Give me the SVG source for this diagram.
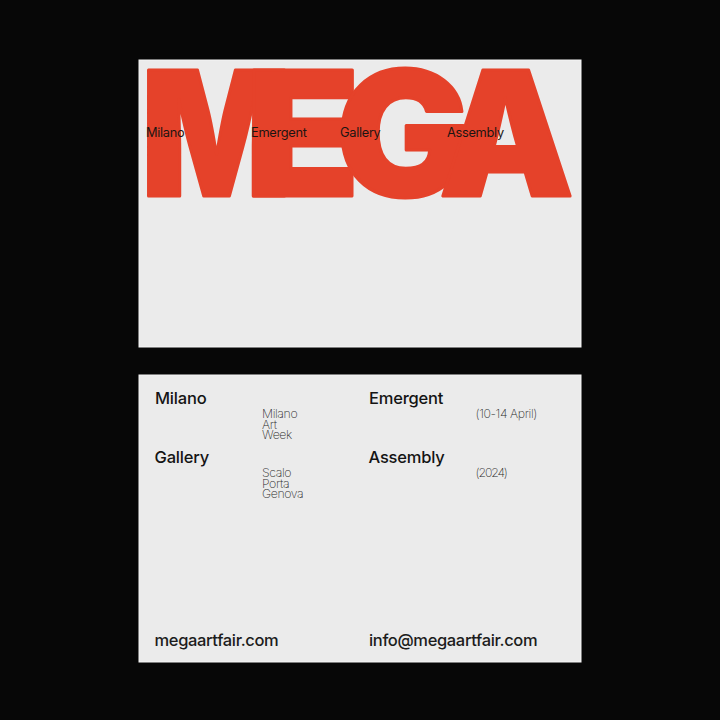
<svg xmlns="http://www.w3.org/2000/svg" width="720" height="720" viewBox="0 0 720 720">
<style>
.card{fill:#ebebeb;stroke:#f6f6f6;stroke-width:1}
.mega{font-family:Inter,"Liberation Sans",sans-serif;font-weight:900;font-size:173.500px;fill:#e5422a;stroke:#e5422a;stroke-width:3;stroke-linejoin:round}
.over{font-family:Inter,"Liberation Sans",sans-serif;font-weight:400;font-size:12.800px;letter-spacing:-.3px;fill:#1c1512}
.head{font-family:Inter,"Liberation Sans",sans-serif;font-weight:500;font-size:16.500px;letter-spacing:-.2px;fill:#141414}
.foot{font-family:Inter,"Liberation Sans",sans-serif;font-weight:500;font-size:16.500px;letter-spacing:-.35px;fill:#1c1c1c}
.small{font-family:Inter,"Liberation Sans",sans-serif;font-weight:200;font-size:12.300px;letter-spacing:-.4px;fill:#2c2c2c}
</style>
<rect width="720" height="720" fill="#070707"/>
<g id="card-front">
<rect class="card" x="139" y="60" width="442" height="287"/>
<g id="logo">
<text class="mega" x="141" y="195.500" textLength="151" lengthAdjust="spacingAndGlyphs">M</text>
<text class="mega" x="245" y="195.500" textLength="115" lengthAdjust="spacingAndGlyphs">E</text>
<text class="mega" x="336" y="195.500" textLength="134" lengthAdjust="spacingAndGlyphs">G</text>
<text class="mega" x="439" y="195.500" textLength="135" lengthAdjust="spacingAndGlyphs">A</text>
</g>
<g id="overlay-labels">
<text class="over" x="146" y="137">Milano</text>
<text class="over" x="251" y="137">Emergent</text>
<text class="over" x="340" y="137">Gallery</text>
<text class="over" x="447" y="137">Assembly</text>
</g>
</g>
<g id="card-back">
<rect class="card" x="139" y="375" width="442" height="287"/>
<text class="head" x="155" y="404">Milano</text>
<text class="head" x="369" y="404">Emergent</text>
<text class="head" x="154.500" y="463">Gallery</text>
<text class="head" x="368.500" y="463">Assembly</text>
<text class="small" x="262" y="418">Milano</text>
<text class="small" x="262" y="428.500">Art</text>
<text class="small" x="262" y="439">Week</text>
<text class="small" x="262" y="477">Scalo</text>
<text class="small" x="262" y="487.500">Porta</text>
<text class="small" x="262" y="498">Genova</text>
<text class="small" x="475.500" y="418" textLength="61.500">(10-14 April)</text>
<text class="small" x="475.500" y="477" textLength="32">(2024)</text>
<text class="foot" x="154.500" y="646">megaartfair.com</text>
<text class="foot" x="369" y="646">info@megaartfair.com</text>
</g>
</svg>
